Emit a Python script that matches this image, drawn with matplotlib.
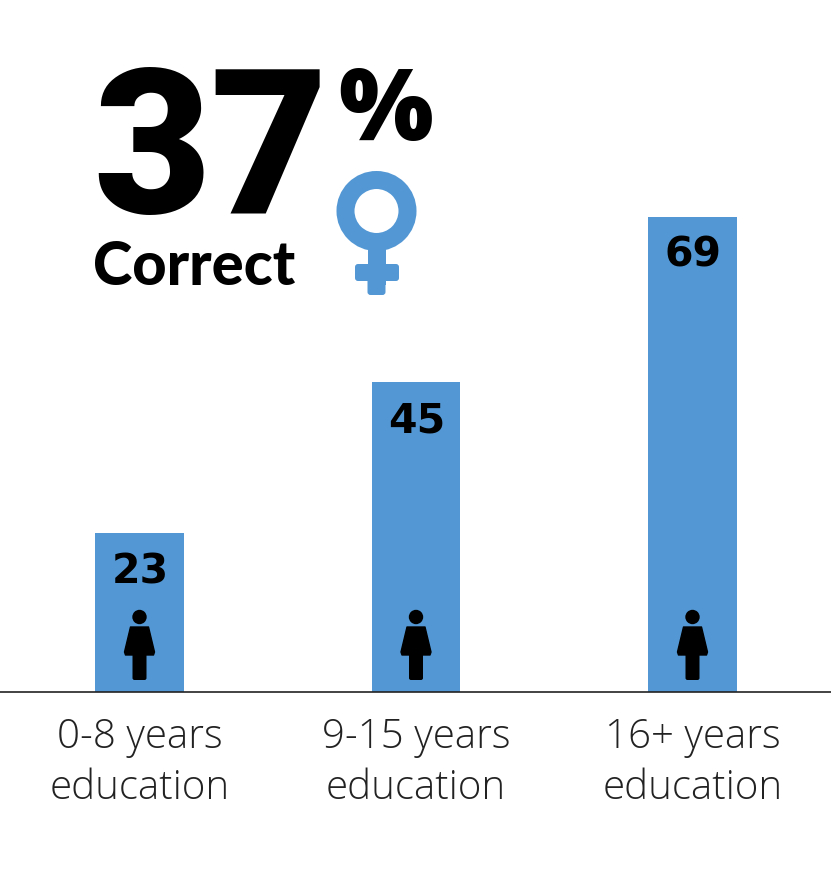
import matplotlib
matplotlib.use("Agg")
import matplotlib.pyplot as plt
from matplotlib.patches import Circle, Rectangle, FancyBboxPatch, Polygon

categories = ["0-8 years\neducation", "9-15 years\neducation", "16+ years\neducation"]
values = [23, 45, 69]
headline = "37"
subhead = "Correct"
BLUE = "#5398d5"
W, H = 831, 874
BASE = 691.5
PX_PER_UNIT = 6.877
SPACING = 276.5
X0 = 139.5

fig = plt.figure(figsize=(W/100, H/100), dpi=100, facecolor="white")
ax = fig.add_axes([0, (H-BASE)/H, 1, BASE/H])
ax.set_xlim(-X0/SPACING, (W-X0)/SPACING)
ax.set_ylim(0, BASE/PX_PER_UNIT)
xs = list(range(len(values)))
ax.bar(xs, values, width=88.5/SPACING, color=BLUE, zorder=2)
for s in ["top", "left", "right"]:
    ax.spines[s].set_visible(False)
ax.spines["bottom"].set_linewidth(1.2)
ax.spines["bottom"].set_color("#222222")
ax.spines["bottom"].set_zorder(3)
ax.set_yticks([])
ax.set_xticks(xs)
ax.set_xticklabels(categories, family="Open Sans", fontweight="light", fontsize=29,
                   color="#222222", linespacing=1.33)
ax.tick_params(axis="x", length=0, pad=18)
for x, v in zip(xs, values):
    ax.annotate(str(v), (x, v), xytext=(0.5, -19), textcoords="offset pixels", ha="center", va="top",
                family="DejaVu Sans", fontweight="bold", fontsize=29.5, color="black", zorder=4)

# overlay in pixel coordinates for decoration and headline
ov = fig.add_axes([0, 0, 1, 1], facecolor="none")
ov.set_xlim(0, W); ov.set_ylim(H, 0); ov.axis("off")
ov.text(93, 213, headline, family="Roboto", fontweight="black", fontsize=146, color="black",
        ha="left", va="baseline")
ov.text(338, 140, "%", family="Open Sans", fontweight="extra bold", fontsize=72, color="black",
        ha="left", va="baseline")
ov.text(93, 285, subhead, family="Lato", fontweight="black", fontsize=43, color="black",
        ha="left", va="baseline")

# female symbol
ov.add_patch(Circle((376.5, 211), 31, fc="none", ec=BLUE, lw=18*0.72))
ov.add_patch(Rectangle((367.5, 245), 18, 40, fc=BLUE, ec="none"))
ov.add_patch(FancyBboxPatch((355, 264), 44, 17, boxstyle="round,pad=0,rounding_size=3", fc=BLUE, ec="none"))
ov.add_patch(FancyBboxPatch((367.5, 270), 18, 25, boxstyle="round,pad=0,rounding_size=3", fc=BLUE, ec="none"))

# person icons
for x in xs:
    cx = X0 + x*SPACING
    ov.add_patch(Circle((cx, 617), 7.2, fc="black", ec="none", zorder=5))
    ov.add_patch(Polygon([(cx-9, 627), (cx+9, 627), (cx+15, 652), (cx+14, 655), (cx-14, 655), (cx-15, 652)],
                         closed=True, fc="black", ec="black", lw=1, joinstyle="round", zorder=5))
    ov.add_patch(FancyBboxPatch((cx-7, 650), 14, 30, boxstyle="round,pad=0,rounding_size=2", fc="black", ec="none", zorder=5))

fig.savefig("out.png", dpi=100)
